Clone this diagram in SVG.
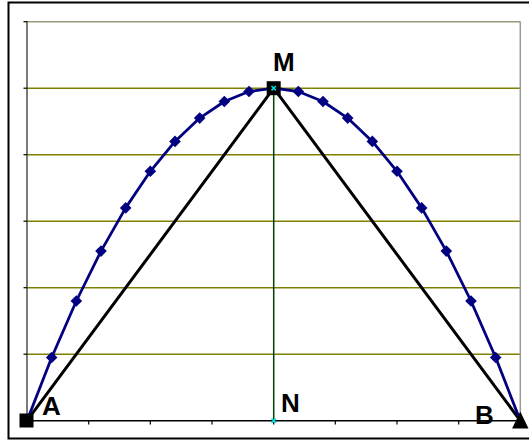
<svg xmlns="http://www.w3.org/2000/svg" xmlns:xlink="http://www.w3.org/1999/xlink" width="529" height="441" viewBox="0 0 529 441">
<style>
.grid{stroke:#808000;stroke-width:1.4;fill:none}
.tick{stroke:#000;stroke-width:1.2}
.lbl{font-family:"Liberation Sans",Arial,sans-serif;font-weight:bold;font-size:26px;fill:#000}
.tri{stroke:#000;stroke-width:3;fill:none;stroke-linejoin:round}
.curve{stroke:#000080;stroke-width:2.8;fill:none;stroke-linejoin:round}
.cx{stroke:#00e0e0;stroke-width:1.5}
</style>
<defs>
<path id="dm" d="M0,-5.8 L5.8,0 L0,5.8 L-5.8,0 Z" fill="#000080"/>
</defs>
<rect x="0" y="0" width="529" height="441" fill="#fff"/>
<rect x="8.5" y="2.5" width="540" height="436" fill="none" stroke="#000" stroke-width="2"/>
<g id="plot-area">
<line class="grid" x1="27" y1="88.2" x2="520.3" y2="88.2"/>
<line class="grid" x1="27" y1="154.7" x2="520.3" y2="154.7"/>
<line class="grid" x1="27" y1="221.2" x2="520.3" y2="221.2"/>
<line class="grid" x1="27" y1="287.7" x2="520.3" y2="287.7"/>
<line class="grid" x1="27" y1="354.2" x2="520.3" y2="354.2"/>
<line x1="27" y1="21.7" x2="520.3" y2="21.7" stroke="#999977" stroke-width="1.5"/>
<line x1="520.3" y1="21.7" x2="520.3" y2="420.7" stroke="#999" stroke-width="1.5"/>
<line x1="27" y1="21" x2="27" y2="421" stroke="#333" stroke-width="1.3"/>
<line x1="27" y1="420.7" x2="521" y2="420.7" stroke="#000" stroke-width="1.5"/>
<g class="tick">
<line x1="23.5" y1="21.7" x2="27" y2="21.7"/>
<line x1="23.5" y1="88.2" x2="27" y2="88.2"/>
<line x1="23.5" y1="154.7" x2="27" y2="154.7"/>
<line x1="23.5" y1="221.2" x2="27" y2="221.2"/>
<line x1="23.5" y1="287.7" x2="27" y2="287.7"/>
<line x1="23.5" y1="354.2" x2="27" y2="354.2"/>
<line x1="88.7" y1="420.7" x2="88.7" y2="424.5"/>
<line x1="150.3" y1="420.7" x2="150.3" y2="424.5"/>
<line x1="212" y1="420.7" x2="212" y2="424.5"/>
<line x1="273.7" y1="420.7" x2="273.7" y2="424.5"/>
<line x1="335.3" y1="420.7" x2="335.3" y2="424.5"/>
<line x1="397" y1="420.7" x2="397" y2="424.5"/>
<line x1="458.7" y1="420.7" x2="458.7" y2="424.5"/>
</g>
</g>
<g id="connectors">
<line x1="273.7" y1="88.2" x2="273.7" y2="420.7" stroke="#004000" stroke-width="1.5"/>
<polyline class="tri" points="27,420.7 273.7,88.2 520.3,420.7"/>
<polyline class="curve" points="27,420.7 51.67,357.5 76.33,301 101,251.1 125.67,207.9 150.33,171.3 175,141.4 199.67,118.1 224.33,101.5 249,91.5 273.67,88.2 298.33,91.5 323,101.5 347.67,118.1 372.33,141.4 397,171.3 421.67,207.9 446.33,251.1 471,301 495.67,357.5 520.33,420.7"/>
</g>
<g id="markers">
<use xlink:href="#dm" x="51.67" y="357.5"/>
<use xlink:href="#dm" x="76.33" y="301"/>
<use xlink:href="#dm" x="101" y="251.1"/>
<use xlink:href="#dm" x="125.67" y="207.9"/>
<use xlink:href="#dm" x="150.33" y="171.3"/>
<use xlink:href="#dm" x="175" y="141.4"/>
<use xlink:href="#dm" x="199.67" y="118.1"/>
<use xlink:href="#dm" x="224.33" y="101.5"/>
<use xlink:href="#dm" x="249" y="91.5"/>
<use xlink:href="#dm" x="298.33" y="91.5"/>
<use xlink:href="#dm" x="323" y="101.5"/>
<use xlink:href="#dm" x="347.67" y="118.1"/>
<use xlink:href="#dm" x="372.33" y="141.4"/>
<use xlink:href="#dm" x="397" y="171.3"/>
<use xlink:href="#dm" x="421.67" y="207.9"/>
<use xlink:href="#dm" x="446.33" y="251.1"/>
<use xlink:href="#dm" x="471" y="301"/>
<use xlink:href="#dm" x="495.67" y="357.5"/>
</g>
<g id="node-A">
<rect x="19.5" y="413.5" width="14" height="14" fill="#000"/>
<text class="lbl" x="42" y="415">A</text>
</g>
<g id="node-M">
<rect x="266.7" y="81.2" width="14" height="14" fill="#000"/>
<path class="cx" d="M271.5,86 L275.9,90.4 M275.9,86 L271.5,90.4"/>
<text class="lbl" x="273" y="71">M</text>
</g>
<g id="node-N">
<path class="cx" d="M271.5,418.5 L275.9,422.9 M275.9,418.5 L271.5,422.9"/>
<text class="lbl" x="281" y="412">N</text>
</g>
<g id="node-B">
<path d="M520.3,411.5 L528.5,428.5 L512.1,428.5 Z" fill="#000"/>
<text class="lbl" x="475" y="424">B</text>
</g>
</svg>
